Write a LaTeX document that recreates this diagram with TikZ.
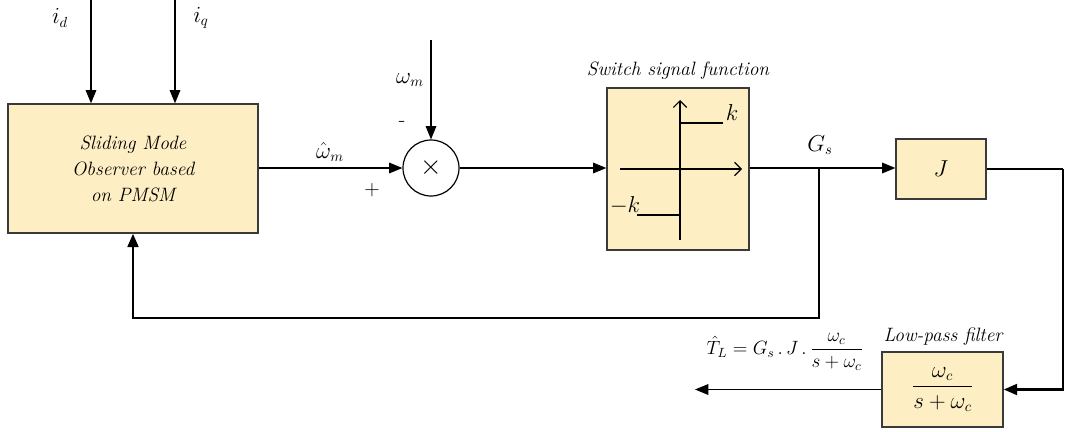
\documentclass[tikz,border=0pt]{standalone}
\usepackage{amsmath}
\usetikzlibrary{arrows.meta, positioning, calc}
\definecolor{BoxFill}{HTML}{FDEFC3}
\definecolor{BoxLine}{HTML}{3A3A3A}
\newcommand{\figfont}{\fontsize{14.5}{19.5}\selectfont}
\newcommand{\mathfont}{\fontsize{16}{20}\selectfont}

\begin{document}
\begin{tikzpicture}[
    x=0.75pt, y=-0.75pt,
    >={Triangle[length=10pt,width=8pt]},
    block/.style={
        draw=BoxLine,
        line width=1pt,
        fill=BoxFill,
        inner sep=0pt,
        align=center,
        font=\figfont\itshape
    },
    sumnode/.style={
        circle,
        draw=black,
        line width=0.9pt,
        minimum size=42pt,
        inner sep=0pt,
        font=\fontsize{20}{20}\selectfont
    },
    signal/.style={line width=0.9pt, ->},
    feedback/.style={line width=2pt, ->},
    axis/.style={line width=0.9pt, -{Straight Barb[length=5pt,width=10pt]}},
    lbl/.style={font=\mathfont, inner sep=1pt},
    title/.style={font=\figfont\itshape, inner sep=1pt}
]
\useasboundingbox (0,0) rectangle (1065,432);

% blocks
\node[block, minimum width=187.5pt, minimum height=96.75pt] (smo) at (133,168.5)
    {Sliding Mode\\Observer based\\on PMSM};
\node[sumnode] (sum) at (431,168) {$\times$};
\node[block, minimum width=106.5pt, minimum height=121.5pt] (sw) at (678,169) {};
\node[block, minimum width=67.5pt, minimum height=45pt, font=\mathfont] (J) at (941,169) {$J$};
\node[block, minimum width=90.75pt, minimum height=56.25pt, font=\mathfont] (lp) at (942.5,389.5)
    {$\dfrac{\omega_c}{s+\omega_c}$};

\node[title] (swtitle) at (678,71) {Switch signal function};
\node[title] (lptitle) at (943,337) {Low-pass filter};

% switch function graph
\coordinate (xl) at (620,169);
\coordinate (xr) at (742,169);
\coordinate (yb) at (680,240);
\coordinate (yt) at (680,100);
\draw[axis] (xl) -- (xr);
\draw[axis] (yb) -- (yt);
\draw[line width=0.9pt] (680,123) -- (723,123);
\draw[line width=0.9pt] (637,215) -- (680,215);
\node[lbl] (kp) at (732,112) {$k$};
\node[lbl] (km) at (625,205) {$-k$};

% inputs
\coordinate (idin) at (91,0);
\coordinate (iqin) at (175,0);
\coordinate (wmin) at (431,40);
\draw[signal] (idin) -- (smo.north -| idin);
\draw[signal] (iqin) -- (smo.north -| iqin);
\draw[signal] (wmin) -- (sum.north);
\node[lbl] (id) at (60,18) {$i_d$};
\node[lbl] (iq) at (201,18) {$i_q$};
\node[lbl] (wm) at (410,80) {$\omega_m$};
\node[lbl] (minus) at (402,124) {-};
\node[lbl] (plus) at (372,190) {+};

% forward path
\draw[signal] (smo.east |- sum) -- (sum.west);
\node[lbl] (what) at (330,152) {$\hat{\omega}_m$};
\draw[signal] (sum.east) -- (sw.west |- sum);
\coordinate (br) at (819,168);
\draw[line width=0.9pt] (sw.east |- br) -- (br);
\draw[signal] (br) -- (J.west |- br);
\node[lbl] (gs) at (820,145) {$G_s$};

% feedback to observer
\draw[feedback] (br) -- ++(0,150) -| (smo.south);

% torque estimation
\coordinate (corner) at (1063,169);
\draw[line width=2pt] (J.east) -- (corner);
\draw[feedback] (corner) |- (lp.east);
\coordinate (tl) at (695,389.5);
\draw[signal] (lp.west) -- (tl);
\node[lbl, font=\figfont] (tlabel) at (785,352) {$\hat{T}_L = G_s\,.\,J\,.\,\dfrac{\omega_c}{s+\omega_c}$};

\end{tikzpicture}
\end{document}
